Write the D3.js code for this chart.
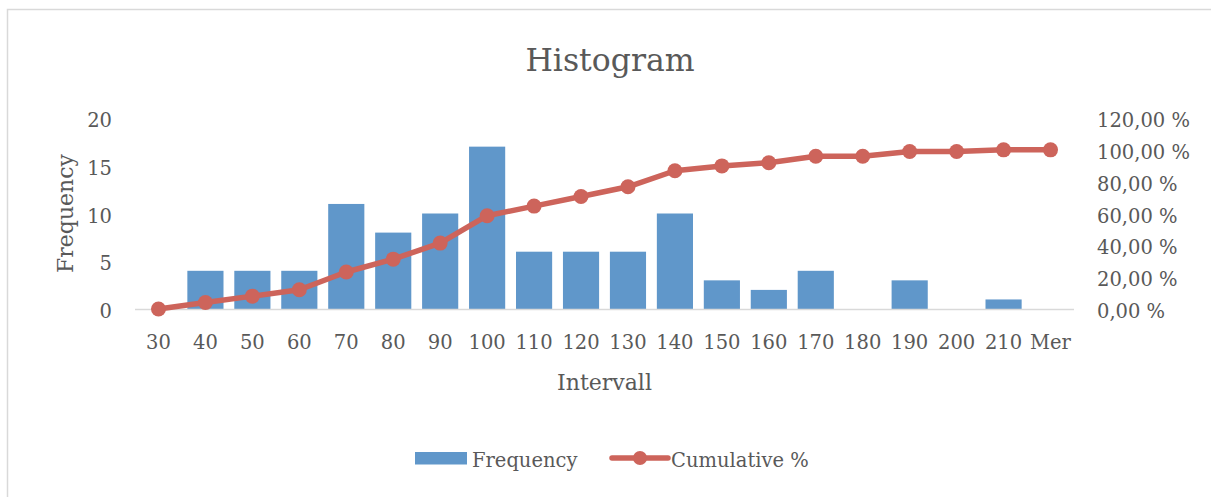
<!DOCTYPE html>
<html>
<head>
<meta charset="utf-8">
<script src="https://cdn.jsdelivr.net/npm/d3@7"></script>
<style>
  body { margin: 0; background: #fff; }
  #histogram text { font-family: "DejaVu Serif", serif; fill: #595959; }
  .tickText { font-size: 19.5px; }
  .axisTitle { font-size: 22px; }
  .chartTitle { font-size: 31.5px; }
  .legendText { font-size: 19.5px; }
</style>
</head>
<body>
<div id="histogram"></div>
<script>
// data
var intervals = ["30", "40", "50", "60", "70", "80", "90", "100", "110", "120",
                 "130", "140", "150", "160", "170", "180", "190", "200", "210", "Mer"];
var frequency = [0, 4, 4, 4, 11, 8, 10, 17, 6, 6, 6, 10, 3, 2, 4, 0, 3, 0, 1, 0];
var cumulative = [0, 4.04, 8.08, 12.12, 23.23, 31.31, 41.41, 58.59, 64.65, 70.71,
                  76.77, 86.87, 89.90, 91.92, 95.96, 95.96, 98.99, 98.99, 100, 100];
var freqTicks = [0, 5, 10, 15, 20];
var pctTicks = [0, 20, 40, 60, 80, 100, 120];

/**
 * Constructor for the histogram chart
 */
function HistogramChart(){
    var self = this;
    self.init();
};

/**
 * Creates the svg and the scales
 */
HistogramChart.prototype.init = function(){
    var self = this;
    self.svgWidth = 1211;
    self.svgHeight = 497;
    self.plot = {left: 135, right: 1074, top: 118, bottom: 309};

    self.svg = d3.select("#histogram").append("svg")
        .attr("width", self.svgWidth)
        .attr("height", self.svgHeight);

    self.x = d3.scaleBand()
        .domain(intervals)
        .range([self.plot.left, self.plot.right])
        .paddingInner(0.23)
        .paddingOuter(0.115);

    self.yFreq = d3.scaleLinear()
        .domain([0, 20])
        .range([self.plot.bottom, self.plot.top]);

    self.yPct = d3.scaleLinear()
        .domain([0, 120])
        .range([self.plot.bottom, self.plot.top]);
};

/**
 * Draws frame, axes, bars, line and legend
 */
HistogramChart.prototype.update = function(){
    var self = this;
    var blue = "#6097CA", red = "#CD645B";

    // chart frame (runs off the right and bottom of the picture)
    self.svg.append("rect")
        .attr("x", 7.5)
        .attr("y", 9.5)
        .attr("width", 1230)
        .attr("height", 520)
        .attr("fill", "none")
        .attr("stroke", "#D9D9D9")
        .attr("stroke-width", 1.5);

    self.svg.append("text")
        .attr("class", "chartTitle")
        .attr("x", 610)
        .attr("y", 71)
        .attr("text-anchor", "middle")
        .text("Histogram");

    // left axis labels
    self.svg.selectAll(".leftTick")
        .data(freqTicks)
        .enter().append("text")
        .attr("class", "tickText leftTick")
        .attr("x", 112)
        .attr("y", function(d){ return self.yFreq(d) + 9; })
        .attr("text-anchor", "end")
        .text(function(d){ return d; });

    // right axis labels
    var pctFormat = function(d){ return d3.format(".2f")(d).replace(".", ",") + " %"; };
    self.svg.selectAll(".rightTick")
        .data(pctTicks)
        .enter().append("text")
        .attr("class", "tickText rightTick")
        .attr("x", 1097)
        .attr("y", function(d){ return self.yPct(d) + 9; })
        .text(pctFormat);

    // category labels
    self.svg.selectAll(".xTick")
        .data(intervals)
        .enter().append("text")
        .attr("class", "tickText xTick")
        .attr("x", function(d){ return self.x(d) + self.x.bandwidth() / 2; })
        .attr("y", 349)
        .attr("text-anchor", "middle")
        .text(function(d){ return d; });

    self.svg.append("text")
        .attr("class", "axisTitle")
        .attr("transform", "translate(73," + ((self.plot.top + self.plot.bottom) / 2) + ") rotate(-90)")
        .attr("text-anchor", "middle")
        .text("Frequency");

    self.svg.append("text")
        .attr("class", "axisTitle")
        .attr("x", (self.plot.left + self.plot.right) / 2)
        .attr("y", 390)
        .attr("text-anchor", "middle")
        .text("Intervall");

    // bars
    self.svg.selectAll(".bar")
        .data(frequency)
        .enter().append("rect")
        .attr("class", "bar")
        .attr("x", function(d, i){ return self.x(intervals[i]); })
        .attr("y", function(d){ return self.yFreq(d); })
        .attr("width", self.x.bandwidth())
        .attr("height", function(d){ return self.yFreq(0) - self.yFreq(d); })
        .attr("fill", blue);

    // category axis line
    self.svg.append("line")
        .attr("x1", self.plot.left)
        .attr("x2", self.plot.right)
        .attr("y1", self.plot.bottom + 0.5)
        .attr("y2", self.plot.bottom + 0.5)
        .attr("stroke", "#D9D9D9")
        .attr("stroke-width", 1.5);

    // cumulative line
    var line = d3.line()
        .x(function(d, i){ return self.x(intervals[i]) + self.x.bandwidth() / 2; })
        .y(function(d){ return self.yPct(d); });

    self.svg.append("path")
        .datum(cumulative)
        .attr("d", line)
        .attr("fill", "none")
        .attr("stroke", red)
        .attr("stroke-width", 5.5)
        .attr("stroke-linejoin", "round");

    self.svg.selectAll(".dot")
        .data(cumulative)
        .enter().append("circle")
        .attr("class", "dot")
        .attr("cx", function(d, i){ return self.x(intervals[i]) + self.x.bandwidth() / 2; })
        .attr("cy", function(d){ return self.yPct(d); })
        .attr("r", 7.5)
        .attr("fill", red);

    // legend
    var legend = self.svg.append("g");
    legend.append("rect")
        .attr("x", 415)
        .attr("y", 452)
        .attr("width", 52)
        .attr("height", 12.5)
        .attr("fill", blue);
    legend.append("text")
        .attr("class", "legendText")
        .attr("x", 472)
        .attr("y", 467)
        .text("Frequency");
    legend.append("line")
        .attr("x1", 612)
        .attr("x2", 668)
        .attr("y1", 458)
        .attr("y2", 458)
        .attr("stroke", red)
        .attr("stroke-width", 5.5)
        .attr("stroke-linecap", "round");
    legend.append("circle")
        .attr("cx", 640)
        .attr("cy", 458)
        .attr("r", 7)
        .attr("fill", red);
    legend.append("text")
        .attr("class", "legendText")
        .attr("x", 671)
        .attr("y", 467)
        .text("Cumulative %");
};

var chart = new HistogramChart();
chart.update();
</script>
</body>
</html>
